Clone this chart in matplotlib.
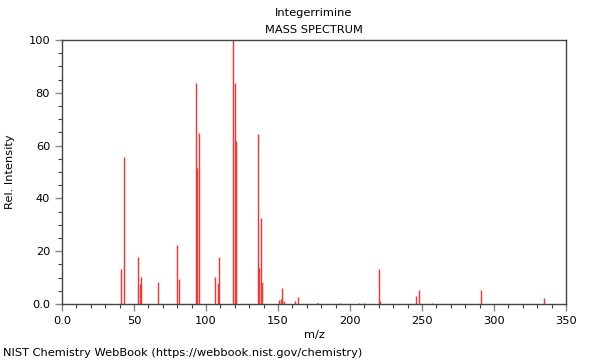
import numpy as np
import matplotlib.pyplot as plt
from matplotlib.ticker import MultipleLocator

# Peak list (m/z, relative intensity)
mz = [41, 43, 53, 54, 55, 67, 80, 81, 93, 94, 95, 106, 108, 109,
      119, 120, 121, 136, 137, 138, 139, 151, 152, 153, 154, 162, 164,
      177, 178, 193, 206, 210, 220, 221, 246, 248, 257, 291, 335]
intensity = [13.2, 55.6, 17.7, 7.6, 10.3, 8.3, 22.3, 9.5, 83.7, 51.4, 64.8, 10.4, 7.9, 17.7,
             100.0, 83.6, 61.9, 64.3, 13.8, 32.7, 8.5, 1.5, 1.9, 6.2, 1.0, 1.1, 2.6,
             0.5, 0.4, 0.3, 0.5, 0.3, 13.2, 1.2, 3.0, 5.3, 0.3, 5.3, 2.3]

compound = 'Integerrimine'
source = 'NIST Chemistry WebBook (https://webbook.nist.gov/chemistry)'

fig = plt.figure(figsize=(6, 3.6), dpi=100)
ax = fig.add_axes([0.1033, 0.1556, 0.84, 0.7333])

ax.vlines(mz, 0, intensity, colors='#ff3030', linewidth=1.0)

ax.set_xlim(0, 350)
ax.set_ylim(0, 100)
ax.xaxis.set_minor_locator(MultipleLocator(10))
ax.yaxis.set_minor_locator(MultipleLocator(5))
ax.set_xticks(range(0, 351, 50))
ax.set_yticks(range(0, 101, 20))
ax.set_xticklabels(['0.0'] + [str(v) for v in range(50, 351, 50)])
ax.set_yticklabels(['0.0'] + [str(v) for v in range(20, 101, 20)])

ax.tick_params(which='major', length=5, width=1, color='#888888', labelsize=8.2)
ax.tick_params(which='minor', length=3, width=0.8, color='#444444')
for s in ax.spines.values():
    s.set_color('#444444')
    s.set_linewidth(1)

ax.set_xlabel('m/z', fontsize=8.2, labelpad=3)
ax.set_ylabel('Rel. Intensity', fontsize=8.2, labelpad=10)

fig.text(0.523, 0.963, compound, ha='center', va='center', fontsize=8.2)
fig.text(0.523, 0.916, 'MASS SPECTRUM', ha='center', va='center', fontsize=8.2)
fig.text(0.005, 0.02, source, ha='left', va='center', fontsize=8.2)

fig.savefig('out.png', dpi=100)
